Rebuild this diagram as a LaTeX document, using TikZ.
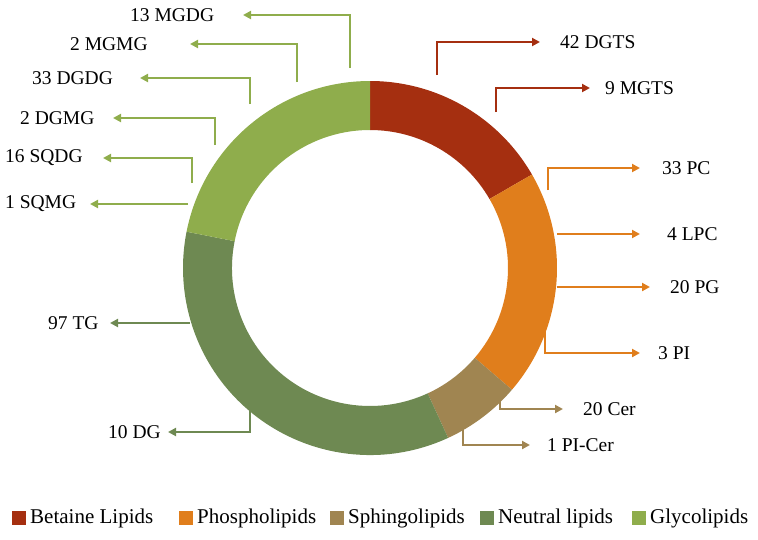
\documentclass[tikz,border=0pt]{standalone}
\usepackage{fontspec}
\setmainfont{Liberation Serif}
\usetikzlibrary{arrows.meta,calc}
\definecolor{bet}{HTML}{A52F10}
\definecolor{pho}{HTML}{E07E1C}
\definecolor{sph}{HTML}{A08551}
\definecolor{neu}{HTML}{6E8952}
\definecolor{gly}{HTML}{8FAD4C}
\begin{document}
\begin{tikzpicture}[x=1pt,y=-1pt,
  lab/.style={font=\fontsize{19.5}{22}\selectfont,inner sep=0pt,anchor=west},
  co/.style={line width=2.2pt,-{Triangle[length=8pt,width=8pt]}},
  leg/.style={font=\fontsize{21}{24}\selectfont,inner sep=0pt,anchor=west}]
\useasboundingbox (0,0) rectangle (758,539);
\coordinate (C) at (370,268);
\foreach \a/\b/\c in {-90/-30/bet,-30/40.6/pho,40.6/65.3/sph,65.3/191.2/neu,191.2/270/gly}{
  \fill[\c] ($(C)+(\a:187)$) arc[start angle=\a,end angle=\b,radius=187] -- ($(C)+(\b:138)$) arc[start angle=\b,end angle=\a,radius=138] -- cycle;
}
% right labels
\node[lab] (l1) at (560,42) {42 DGTS};
\node[lab] (l2) at (605,88) {9 MGTS};
\node[lab] (l3) at (662,168) {33 PC};
\node[lab] (l4) at (667,234) {4 LPC};
\node[lab] (l5) at (670,287) {20 PG};
\node[lab] (l6) at (658,353) {3 PI};
\node[lab] (l7) at (583,409) {20 Cer};
\node[lab] (l8) at (547,445) {1 PI-Cer};
\coordinate (e1) at (540,42); \coordinate (e2) at (590,88);
\coordinate (e3) at (640,168); \coordinate (e4) at (640,234);
\coordinate (e5) at (650,287); \coordinate (e6) at (640,353);
\coordinate (e7) at (563,409); \coordinate (e8) at (530,445);
\draw[co,bet] (437,75) |- (e1);
\draw[co,bet] (496,112) |- (e2);
\draw[co,pho] (548,190) |- (e3);
\draw[co,pho] (557,234) -- (e4);
\draw[co,pho] (557,287) -- (e5);
\draw[co,pho] (545,330) |- (e6);
\draw[co,sph] (500,388) |- (e7);
\draw[co,sph] (463,418) |- (e8);
% left labels
\node[lab] (r1) at (130,15) {13 MGDG};
\node[lab] (r2) at (70,44) {2 MGMG};
\node[lab] (r3) at (32,78) {33 DGDG};
\node[lab] (r4) at (20,118) {2 DGMG};
\node[lab] (r5) at (5,158) {16 SQDG};
\node[lab] (r6) at (5,204) {1 SQMG};
\node[lab] (r7) at (48,323) {97 TG};
\node[lab] (r8) at (108,432) {10 DG};
\coordinate (f1) at (243,15); \coordinate (f2) at (190,44);
\coordinate (f3) at (140,78); \coordinate (f4) at (113,118);
\coordinate (f5) at (103,158); \coordinate (f6) at (90,204);
\coordinate (f7) at (110,323); \coordinate (f8) at (168,432);
\draw[co,gly] (350,68) |- (f1);
\draw[co,gly] (297,82) |- (f2);
\draw[co,gly] (250,104) |- (f3);
\draw[co,gly] (215,145) |- (f4);
\draw[co,gly] (192,183) |- (f5);
\draw[co,gly] (188,204) -- (f6);
\draw[co,neu] (190,323) -- (f7);
\draw[co,neu] (250,405) |- (f8);
% legend
\fill[bet] (12,511) rectangle (26,525); \node[leg] (g1) at (30,518) {Betaine Lipids};
\fill[pho] (179,511) rectangle (193,525); \node[leg] (g2) at (197,518) {Phospholipids};
\fill[sph] (330,511) rectangle (344,525); \node[leg] (g3) at (348,518) {Sphingolipids};
\fill[neu] (480,511) rectangle (494,525); \node[leg] (g4) at (498,518) {Neutral lipids};
\fill[gly] (632,511) rectangle (646,525); \node[leg] (g5) at (650,518) {Glycolipids};
\end{tikzpicture}
\end{document}
